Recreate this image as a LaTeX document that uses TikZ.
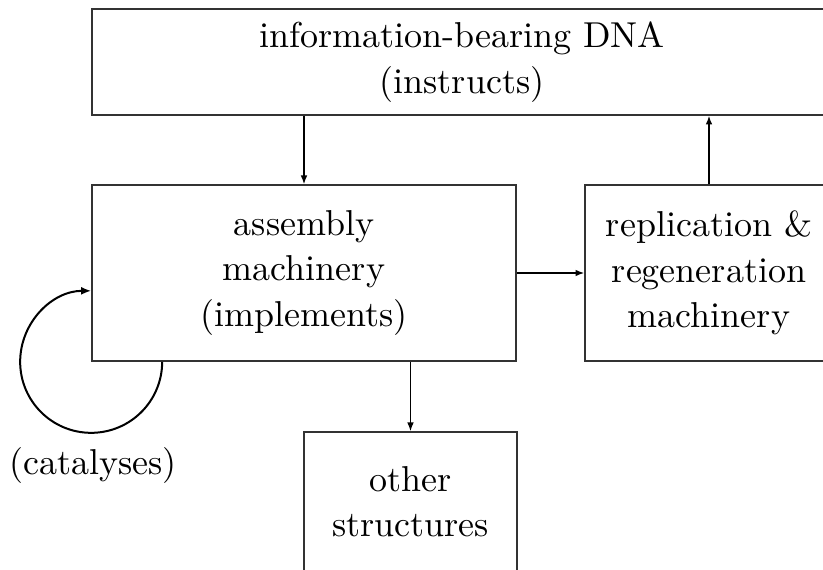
\documentclass[tikz,border=0pt]{standalone}
\usetikzlibrary{arrows.meta}
\begin{document}
\begin{tikzpicture}[x=0.3pt,y=-0.3pt,
  box/.style={draw=black!80,line width=0.5pt,inner sep=0pt,align=center,
    font=\fontsize{10.8pt}{13.6pt}\selectfont},
  arr/.style={line width=0.4pt,-{Latex[length=2.6pt,width=2pt]}},
  loopline/.style={line width=0.6pt,-{Latex[length=3pt,width=2.4pt]}},
  lbl/.style={font=\fontsize{10.8pt}{13.6pt}\selectfont}]
\useasboundingbox (0,0) rectangle (823,570);
\clip (0,0) rectangle (823,570);
\node[box,minimum width=740*0.3pt,minimum height=106*0.3pt] (dna) at (462,62)
  {information-bearing DNA\\(instructs)};
\node[box,minimum width=424*0.3pt,minimum height=176*0.3pt] (asm) at (304,273)
  {assembly\\machinery\\(implements)};
\node[box,minimum width=248*0.3pt,minimum height=176*0.3pt] (rep) at (709,273)
  {replication \&\\regeneration\\machinery};
\node[box,minimum width=213*0.3pt,minimum height=140*0.3pt] (oth) at (410.5,502)
  {other\\structures};
\node[lbl] (cat) at (93,466) {(catalyses)};
\draw[arr] (asm.north |- dna.south) -- (asm.north);
\draw[arr] (asm.east) -- (rep.west);
\draw[arr] (rep.north) -- (rep.north |- dna.south);
\draw[arr] (oth.north |- asm.south) -- (oth.north);
\coordinate (lpstart) at ([xshift=21.3pt]asm.south west);
\draw[loopline] (lpstart) arc[start angle=0,end angle=-270,radius=21.3pt];
\end{tikzpicture}
\end{document}
